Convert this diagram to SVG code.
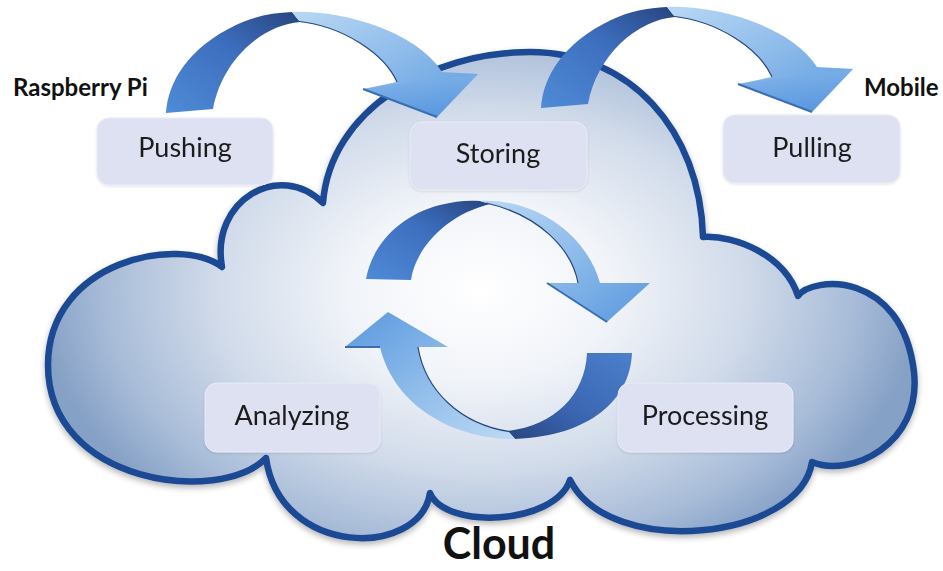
<svg xmlns="http://www.w3.org/2000/svg" width="943" height="571" viewBox="0 0 943 571">
  <style>
    .box { fill: #dde1f2; stroke: #e9ecf8; stroke-width: 1; }
    .lbl { font-family: Lato, "Open Sans", sans-serif; font-size: 27px; fill: #1c1c1c; text-anchor: middle; }
    .tag { font-family: Lato, "Open Sans", sans-serif; font-weight: bold; fill: #111; }
    .edge { fill: none; stroke: #29467e; stroke-width: 1.2; }
    .headside { fill: none; stroke: #3a6db3; stroke-width: 2; }
  </style>
  <defs>
    <radialGradient id="cloudFill" gradientUnits="userSpaceOnUse" cx="480" cy="290" r="440"
                    gradientTransform="translate(480,290) scale(1,0.68) translate(-480,-290)">
      <stop offset="0" stop-color="#ffffff"/>
      <stop offset="0.3" stop-color="#f1f4f9"/>
      <stop offset="0.6" stop-color="#d1dbea"/>
      <stop offset="0.85" stop-color="#a8bcd8"/>
      <stop offset="1" stop-color="#86a1c6"/>
    </radialGradient>
    <filter id="soft" x="-10%" y="-10%" width="120%" height="125%">
      <feGaussianBlur in="SourceAlpha" stdDeviation="3"/>
      <feOffset dy="3"/>
      <feComponentTransfer><feFuncA type="linear" slope="0.3"/></feComponentTransfer>
      <feMerge><feMergeNode/><feMergeNode in="SourceGraphic"/></feMerge>
    </filter>
    <filter id="boxShadow" x="-10%" y="-10%" width="120%" height="130%">
      <feGaussianBlur in="SourceAlpha" stdDeviation="1.5"/>
      <feOffset dy="1"/>
      <feComponentTransfer><feFuncA type="linear" slope="0.12"/></feComponentTransfer>
      <feMerge><feMergeNode/><feMergeNode in="SourceGraphic"/></feMerge>
    </filter>
    <!-- ribbon shading: darker underside going up, light face coming down -->
    <linearGradient id="darkRise" x1="0" y1="1" x2="1" y2="0">
      <stop offset="0" stop-color="#4f8bd6"/>
      <stop offset="0.55" stop-color="#3d6fbf"/>
      <stop offset="1" stop-color="#27447f"/>
    </linearGradient>
    <linearGradient id="lightFall" x1="0" y1="0" x2="1" y2="1">
      <stop offset="0" stop-color="#b9d8f4"/>
      <stop offset="0.5" stop-color="#8dbbea"/>
      <stop offset="1" stop-color="#5a98de"/>
    </linearGradient>
    <linearGradient id="headFill" x1="0" y1="0" x2="0" y2="1">
      <stop offset="0" stop-color="#7fb3ea"/>
      <stop offset="1" stop-color="#4f8fdc"/>
    </linearGradient>
    <linearGradient id="darkLow" x1="1" y1="0" x2="0" y2="1">
      <stop offset="0" stop-color="#4b80cc"/>
      <stop offset="0.6" stop-color="#3a64b0"/>
      <stop offset="1" stop-color="#28457f"/>
    </linearGradient>
    <linearGradient id="lightLow" x1="1" y1="1" x2="0" y2="0">
      <stop offset="0" stop-color="#bcdaf4"/>
      <stop offset="0.5" stop-color="#8dbbea"/>
      <stop offset="1" stop-color="#5a98de"/>
    </linearGradient>

    <!-- one curved hop arrow, drawn from its tail on the left to its head on the right -->
    <g id="hop">
      <path d="M166,113 C168,82 188,48 236,25 C255,16 272,13 292,12 L300,22 C262,25 222,60 213,109 Z" fill="url(#darkRise)"/>
      <path d="M292,12 C340,10 415,30 442,72 L478,74 L437,117 L363,89 L397,82 C385,55 345,26 300,22 Z" fill="url(#lightFall)"/>
      <path d="M363,89 L437,117 L478,74" fill="url(#headFill)" opacity="0.55"/>
      <path class="headside" d="M363,89 L437,117"/>
      <path class="edge" d="M397,82 C385,55 345,26 296,21"/>
    </g>
  </defs>

  <rect width="943" height="571" fill="#ffffff"/>

  <!-- cloud body -->
  <g id="cloud">
    <path filter="url(#soft)" fill="url(#cloudFill)" stroke="#1b4a93" stroke-width="6.5" stroke-linejoin="round"
          d="M323,203 C330,110 430,52 530,52 C630,52 700,130 703,237
             C735,235 785,255 798,296
             C812,276 902,270 914,372
             C922,445 850,478 812,462
             C800,540 610,560 570,480
             C555,525 445,530 430,493
             C420,558 280,558 266,458
             C220,505 48,485 48,365
             C48,260 180,235 222,267
             C210,200 280,160 323,203 Z"/>
  </g>

  <!-- connectors -->
  <g id="connectors">
    <!-- Raspberry Pi to cloud storage -->
    <use href="#hop"/>
    <!-- cloud storage to mobile -->
    <use href="#hop" transform="translate(375,-5)"/>

    <!-- upper half of the cycle, running clockwise -->
    <g id="cycle-upper">
      <path d="M366,279 C372,245 400,215 440,205 C455,201 468,200 480,201 L490,204 C445,215 415,250 411,280 Z" fill="url(#darkRise)"/>
      <path d="M480,201 C530,198 585,230 600,283 L650,283 L607,322 L547,283 L578,283 C572,250 540,215 490,204 Z" fill="url(#lightFall)"/>
      <path class="headside" d="M547,283 L607,322"/>
      <path class="edge" d="M578,283 C572,250 540,215 486,203"/>
    </g>

    <!-- lower half of the cycle, running clockwise -->
    <g id="cycle-lower">
      <path d="M632,353 C630,400 590,436 515,439 L508,431 C555,425 585,395 587,353 Z" fill="url(#darkLow)"/>
      <path d="M515,439 C460,440 395,410 380,347 L345,347 L388,312 L448,347 L418,347 C425,390 460,425 508,431 Z" fill="url(#lightLow)"/>
      <path class="headside" d="M345,347 L380,347"/>
      <path class="edge" d="M418,347 C425,390 460,425 512,432"/>
    </g>
  </g>

  <!-- nodes -->
  <g id="node-pushing" filter="url(#boxShadow)">
    <rect class="box" x="97" y="118" width="176" height="67" rx="12"/>
    <text class="lbl" x="185" y="157">Pushing</text>
  </g>
  <g id="node-storing" filter="url(#boxShadow)">
    <rect class="box" x="410" y="122" width="177" height="68" rx="12"/>
    <text class="lbl" x="498" y="163">Storing</text>
  </g>
  <g id="node-pulling" filter="url(#boxShadow)">
    <rect class="box" x="723" y="115" width="177" height="68" rx="12"/>
    <text class="lbl" x="812" y="157">Pulling</text>
  </g>
  <g id="node-analyzing" filter="url(#boxShadow)">
    <rect class="box" x="205" y="383" width="175" height="69" rx="12"/>
    <text class="lbl" x="292" y="425">Analyzing</text>
  </g>
  <g id="node-processing" filter="url(#boxShadow)">
    <rect class="box" x="618" y="383" width="175" height="69" rx="12"/>
    <text class="lbl" x="705" y="425">Processing</text>
  </g>

  <!-- endpoint captions -->
  <g id="label-raspberry">
    <text class="tag" x="13" y="96" font-size="24">Raspberry Pi</text>
  </g>
  <g id="label-mobile">
    <text class="tag" x="864" y="96" font-size="24">Mobile</text>
  </g>
  <g id="label-cloud">
    <text class="tag" x="499" y="559" font-size="43" text-anchor="middle">Cloud</text>
  </g>
</svg>
